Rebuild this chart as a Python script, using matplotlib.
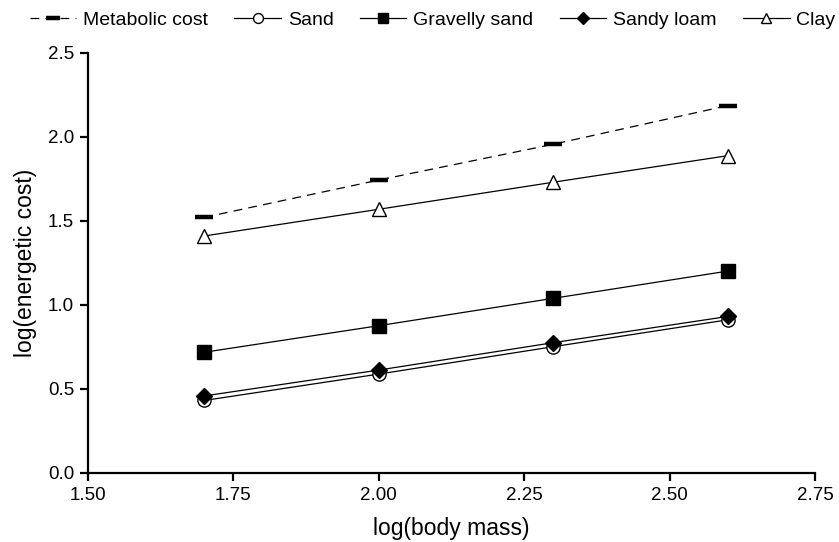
import matplotlib
matplotlib.use("Agg")
import matplotlib.pyplot as plt
from matplotlib.ticker import FormatStrFormatter

plt.rcParams['font.family'] = ['Liberation Sans', 'DejaVu Sans']

# log(body mass) values
body_mass = [1.7, 2.0, 2.3, 2.6]

# log(energetic cost) per series
metabolic = [1.52, 1.742, 1.955, 2.185]
sand = [0.43, 0.587, 0.75, 0.91]
gravelly_sand = [0.717, 0.875, 1.038, 1.20]
sandy_loam = [0.457, 0.611, 0.774, 0.93]
clay = [1.409, 1.568, 1.729, 1.887]

x_ticks = [1.50, 1.75, 2.00, 2.25, 2.50, 2.75]
y_ticks = [0.0, 0.5, 1.0, 1.5, 2.0, 2.5]

fig = plt.figure(figsize=(8.39, 5.42), dpi=100)
ax = fig.add_axes([88 / 839, 1 - 472.7 / 542, (815 - 88) / 839, 420 / 542])

lw = 0.9
ax.plot(body_mass, metabolic, color='black', lw=lw, ls=(0, (7, 5)),
        marker='_', ms=13, mew=3.2, label='Metabolic cost')
ax.plot(body_mass, sand, color='black', lw=lw, marker='o', ms=9.5,
        mfc='white', mec='black', mew=1.0, label='Sand')
ax.plot(body_mass, gravelly_sand, color='black', lw=lw, marker='s', ms=10,
        mfc='black', mec='black', label='Gravelly sand')
ax.plot(body_mass, sandy_loam, color='black', lw=lw, marker='D', ms=8,
        mfc='black', mec='black', label='Sandy loam')
ax.plot(body_mass, clay, color='black', lw=lw, marker='^', ms=10.5,
        mfc='white', mec='black', mew=1.0, label='Clay')

ax.set_xlim(1.50, 2.75)
ax.set_ylim(0.0, 2.5)
ax.set_xticks(x_ticks)
ax.set_yticks(y_ticks)
ax.xaxis.set_major_formatter(FormatStrFormatter('%.2f'))
ax.yaxis.set_major_formatter(FormatStrFormatter('%.1f'))

for s in ['top', 'right']:
    ax.spines[s].set_visible(False)
for s in ['left', 'bottom']:
    ax.spines[s].set_linewidth(1.6)
ax.tick_params(direction='out', length=6, width=1.6, labelsize=13.5, pad=4)

ax.set_xlabel('log(body mass)', fontsize=16.5, labelpad=10)
ax.set_ylabel('log(energetic cost)', fontsize=16.5, labelpad=8)

handles, labels = ax.get_legend_handles_labels()
fig.legend(handles, labels, loc='upper center', bbox_to_anchor=(0.5155, 0.994),
           ncol=5, frameon=False, fontsize=14, handlelength=2.4,
           handletextpad=0.35, columnspacing=1.35, markerscale=0.75,
           borderaxespad=0.0)

fig.savefig('out.png', dpi=100)
